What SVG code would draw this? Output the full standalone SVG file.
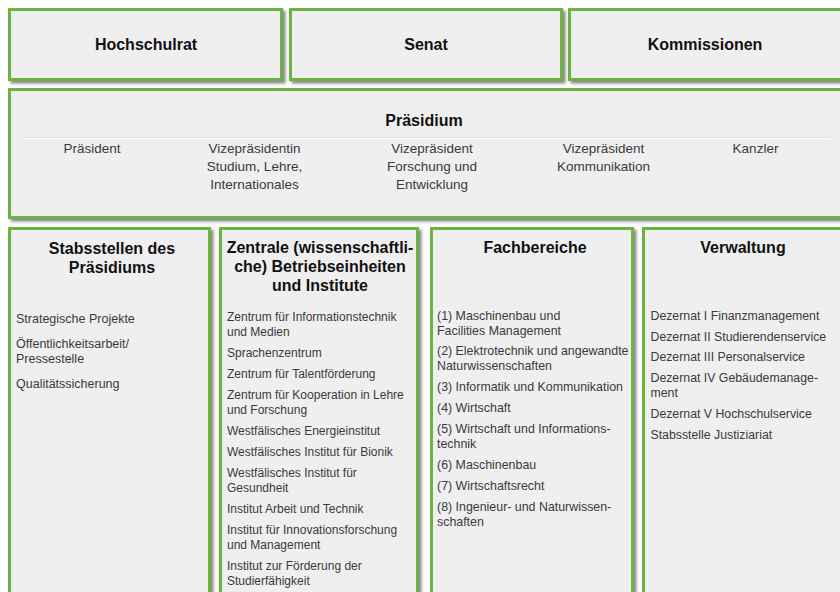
<svg xmlns="http://www.w3.org/2000/svg" width="840" height="592" viewBox="0 0 840 592">
  <style>
    .box { fill: #efefef; stroke: #6db33f; stroke-width: 3; filter: url(#shadow); }
    .title { font-family: "Liberation Sans", Arial, sans-serif; font-weight: bold; font-size: 16px; fill: #111; text-anchor: middle; }
    .member { font-family: "Liberation Sans", Arial, sans-serif; font-size: 13.5px; fill: #3a3a3a; text-anchor: middle; }
    .item { font-family: "Liberation Sans", Arial, sans-serif; font-size: 12.3px; fill: #3a3a3a; }
  </style>
  <defs>
    <filter id="shadow" x="-5%" y="-5%" width="115%" height="120%">
      <feDropShadow dx="2.5" dy="2.5" stdDeviation="1.4" flood-color="#444" flood-opacity="0.65"/>
    </filter>
  </defs>
  <rect width="840" height="592" fill="#ffffff"/>

  <!-- top row: governing bodies -->
  <g id="hochschulrat">
    <rect class="box" x="9.5" y="9.5" width="272" height="70"/>
    <text class="title" x="146" y="50">Hochschulrat</text>
  </g>
  <g id="senat">
    <rect class="box" x="290.5" y="9.5" width="271" height="70"/>
    <text class="title" x="426" y="50">Senat</text>
  </g>
  <g id="kommissionen">
    <rect class="box" x="569.5" y="9.5" width="290" height="70"/>
    <text class="title" x="705" y="50">Kommissionen</text>
  </g>

  <!-- executive board -->
  <g id="praesidium">
    <rect class="box" x="9.5" y="89.5" width="850" height="128"/>
    <text class="title" x="424" y="126">Präsidium</text>
    <line x1="22" y1="137.5" x2="831" y2="137.5" stroke="#e2e2e2" stroke-width="1"/>
    <line x1="22" y1="138.5" x2="831" y2="138.5" stroke="#fbfbfb" stroke-width="1"/>
    <text class="member" x="92" y="153">Präsident</text>
    <text class="member" x="254.5" y="153">Vizepräsidentin</text>
    <text class="member" x="254.5" y="171">Studium, Lehre,</text>
    <text class="member" x="254.5" y="189">Internationales</text>
    <text class="member" x="432" y="153">Vizepräsident</text>
    <text class="member" x="432" y="171">Forschung und</text>
    <text class="member" x="432" y="189">Entwicklung</text>
    <text class="member" x="603.5" y="153">Vizepräsident</text>
    <text class="member" x="603.5" y="171">Kommunikation</text>
    <text class="member" x="755.5" y="153">Kanzler</text>
  </g>

  <!-- bottom row: units -->
  <g id="stabsstellen">
    <rect class="box" x="9.5" y="228.5" width="200" height="380"/>
    <text class="title" x="112" y="254">Stabsstellen des</text>
    <text class="title" x="112" y="273">Präsidiums</text>
    <g class="item" style="font-size:12.5px">
      <text x="16" y="323">Strategische Projekte</text>
      <text x="16" y="348">Öffentlichkeitsarbeit/</text>
      <text x="16" y="363">Pressestelle</text>
      <text x="16" y="388">Qualitätssicherung</text>
    </g>
  </g>

  <g id="zentrale">
    <rect class="box" x="220.5" y="228.5" width="197" height="380"/>
    <text class="title" x="320" y="253">Zentrale (wissenschaftli-</text>
    <text class="title" x="320" y="272">che) Betriebseinheiten</text>
    <text class="title" x="320" y="291">und Institute</text>
    <g class="item" style="font-size:12px">
      <text x="227" y="321">Zentrum für Informationstechnik</text>
      <text x="227" y="336">und Medien</text>
      <text x="227" y="357">Sprachenzentrum</text>
      <text x="227" y="378">Zentrum für Talentförderung</text>
      <text x="227" y="399">Zentrum für Kooperation in Lehre</text>
      <text x="227" y="414">und Forschung</text>
      <text x="227" y="435">Westfälisches Energieinstitut</text>
      <text x="227" y="456">Westfälisches Institut für Bionik</text>
      <text x="227" y="477">Westfälisches Institut für</text>
      <text x="227" y="492">Gesundheit</text>
      <text x="227" y="513">Institut Arbeit und Technik</text>
      <text x="227" y="534">Institut für Innovationsforschung</text>
      <text x="227" y="549">und Management</text>
      <text x="227" y="570">Institut zur Förderung der</text>
      <text x="227" y="585">Studierfähigkeit</text>
    </g>
  </g>

  <g id="fachbereiche">
    <rect class="box" x="431.5" y="228.5" width="201" height="380"/>
    <text class="title" x="535" y="253">Fachbereiche</text>
    <g class="item" style="font-size:12.4px">
      <text x="437" y="320">(1) Maschinenbau und</text>
      <text x="437" y="334.5">Facilities Management</text>
      <text x="437" y="355">(2) Elektrotechnik und angewandte</text>
      <text x="437" y="370">Naturwissenschaften</text>
      <text x="437" y="391">(3) Informatik und Kommunikation</text>
      <text x="437" y="412">(4) Wirtschaft</text>
      <text x="437" y="433">(5) Wirtschaft und Informations-</text>
      <text x="437" y="448">technik</text>
      <text x="437" y="469">(6) Maschinenbau</text>
      <text x="437" y="490">(7) Wirtschaftsrecht</text>
      <text x="437" y="511">(8) Ingenieur- und Naturwissen-</text>
      <text x="437" y="526">schaften</text>
    </g>
  </g>

  <g id="verwaltung">
    <rect class="box" x="643.5" y="228.5" width="220" height="380"/>
    <text class="title" x="743" y="253">Verwaltung</text>
    <g class="item">
      <text x="650.5" y="319.5">Dezernat I Finanzmanagement</text>
      <text x="650.5" y="340.5">Dezernat II Studierendenservice</text>
      <text x="650.5" y="361">Dezernat III Personalservice</text>
      <text x="650.5" y="382">Dezernat IV Gebäudemanage-</text>
      <text x="650.5" y="397">ment</text>
      <text x="650.5" y="418">Dezernat V Hochschulservice</text>
      <text x="650.5" y="439">Stabsstelle Justiziariat</text>
    </g>
  </g>

  <g id="connectors"/>
</svg>
